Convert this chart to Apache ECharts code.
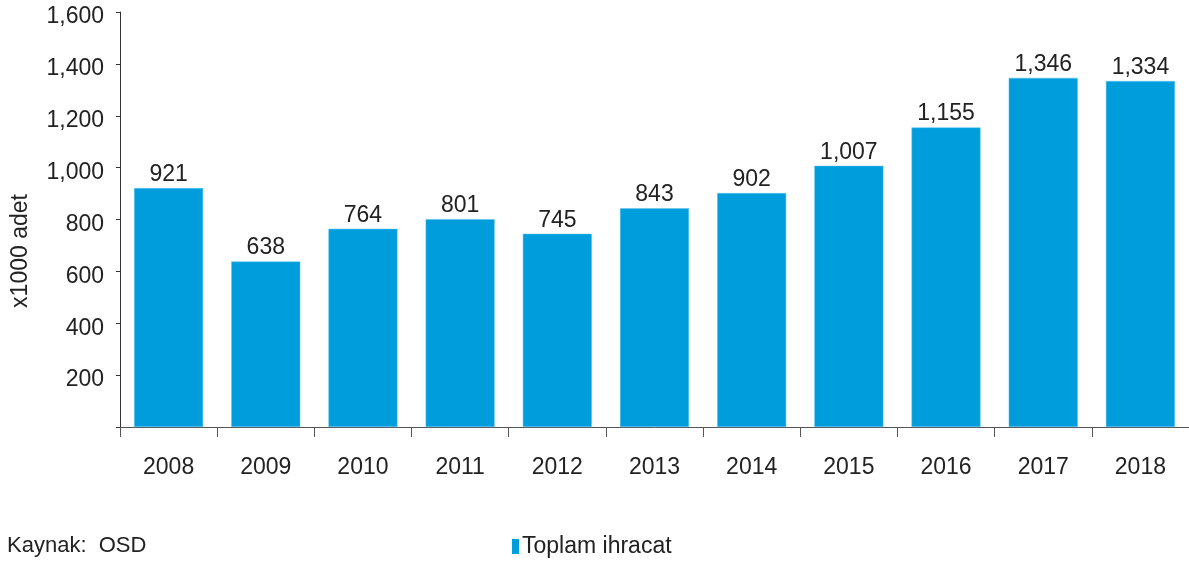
<!DOCTYPE html>
<html>
<head>
<meta charset="utf-8">
<script src="https://cdn.jsdelivr.net/npm/echarts@6/dist/echarts.min.js"></script>
<style>
html,body{margin:0;padding:0;background:#fff;}
#chart{width:1189px;height:563px;}
</style>
</head>
<body>
<div id="chart"></div>
<script>
const years = ['2008','2009','2010','2011','2012','2013','2014','2015','2016','2017','2018'];
const exports = [921, 638, 764, 801, 745, 843, 902, 1007, 1155, 1346, 1334];
const seriesName = 'Toplam ihracat';
const yAxisTitle = 'x1000 adet';
const sourceNote = 'Kaynak:  OSD';

const font = '"Liberation Sans", Arial, sans-serif';
const fmt = v => v.toLocaleString('en-US');

const chart = echarts.init(document.getElementById('chart'));
chart.setOption({
  animation: false,
  textStyle: { fontFamily: font },
  grid: { left: 120, top: 12, width: 1071, height: 415, containLabel: false },
  legend: {
    data: [seriesName],
    left: 507, top: 530,
    icon: 'rect', itemWidth: 7, itemHeight: 15, itemGap: 10,
    itemStyle: { borderWidth: 0, color: '#009DDC' },
    textStyle: { fontSize: 23, color: '#222', fontFamily: font, padding: [0,0,0,-2] }
  },
  xAxis: {
    type: 'category',
    data: years,
    axisLine: { lineStyle: { color: '#555', width: 1 } },
    axisTick: { show: true, length: 10, lineStyle: { color: '#555' } },
    axisLabel: { fontSize: 23, color: '#222', margin: 29, fontFamily: font }
  },
  yAxis: {
    type: 'value', min: 0, max: 1600, interval: 200,
    splitLine: { show: false },
    axisLine: { show: true, lineStyle: { color: '#333', width: 1 } },
    axisTick: { show: true, length: 4, lineStyle: { color: '#333' } },
    axisLabel: { fontSize: 23, color: '#222', margin: 16, fontFamily: font,
      verticalAlign: 'top', lineHeight: 10,
      formatter: v => v === 0 ? '' : fmt(v) }
  },
  graphic: [
    { type: 'text', left: 7, top: 535,
      style: { text: sourceNote, fontSize: 22, fill: '#222', fontFamily: font } },
    { type: 'text', x: 21, y: 251, rotation: Math.PI/2,
      style: { text: yAxisTitle, fontSize: 23, fill: '#222', fontFamily: font,
        align: 'center', verticalAlign: 'middle' } }
  ],
  series: [{
    name: seriesName,
    type: 'bar',
    data: exports,
    barWidth: '71%',
    itemStyle: { color: '#009DDC', borderColor: '#5cc3ec', borderWidth: 0.5 },
    label: { show: true, position: 'top', distance: 2, fontSize: 23, color: '#222',
      fontFamily: font, formatter: p => fmt(p.value) }
  }]
});
</script>
</body>
</html>
